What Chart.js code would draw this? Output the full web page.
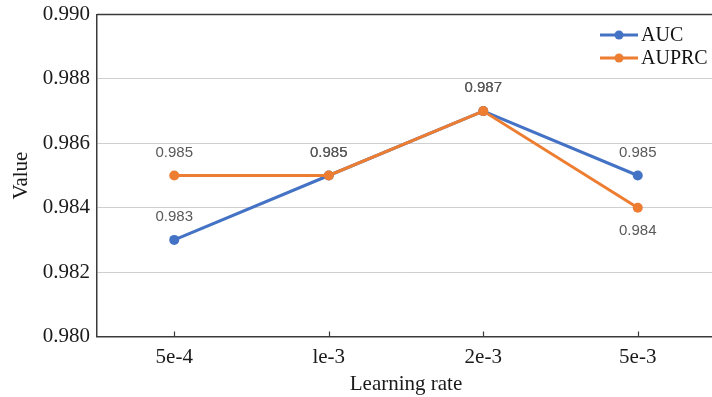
<!DOCTYPE html>
<html>
<head>
<meta charset="utf-8">
<script src="https://cdn.jsdelivr.net/npm/chart.js@4.4.1/dist/chart.umd.min.js"></script>
<style>
  html, body { margin: 0; padding: 0; background: #ffffff; overflow: hidden; }
  #wrap { width: 712px; height: 397px; overflow: hidden; }
  canvas { display: block; }
</style>
</head>
<body>
<div id="wrap"><canvas id="c" width="720" height="397"></canvas></div>
<script>
// Learning-rate sweep results
const learningRates = ['5e-4', 'le-3', '2e-3', '5e-3'];
const aucValues = [0.983, 0.985, 0.987, 0.985];
const auprcValues = [0.985, 0.985, 0.987, 0.984];
const yTickValues = [0.980, 0.982, 0.984, 0.986, 0.988, 0.990];

// Where each value label sits relative to its point
const aucLabelSide = ['above', 'above', 'above', 'above'];
const auprcLabelSide = ['above', 'above', 'above', 'below'];

const BLUE = '#4472C4';
const ORANGE = '#ED7D31';
const AXIS = '#3a3a3a';
const SERIF = '"Liberation Serif", "Times New Roman", serif';
const SANS = '"Liberation Sans", Arial, sans-serif';

const framePlugin = {
  id: 'frame',
  afterDatasetsDraw(chart) {
    const ctx = chart.ctx;
    const area = chart.chartArea;
    const x = chart.scales.x;
    ctx.save();
    // top border of the plot box
    ctx.strokeStyle = AXIS;
    ctx.lineWidth = 1.5;
    ctx.beginPath();
    ctx.moveTo(area.left, area.top);
    ctx.lineTo(area.right, area.top);
    ctx.stroke();
    // short inward tick marks on the category axis
    ctx.lineWidth = 1.2;
    x.ticks.forEach((t, i) => {
      const px = Math.round(x.getPixelForTick(i)) + 0.5;
      ctx.beginPath();
      ctx.moveTo(px, area.bottom);
      ctx.lineTo(px, area.bottom - 5);
      ctx.stroke();
    });
    ctx.restore();
  }
};

const valueLabelPlugin = {
  id: 'valueLabels',
  afterDatasetsDraw(chart) {
    const ctx = chart.ctx;
    ctx.save();
    ctx.font = '15px ' + SANS;
    ctx.fillStyle = '#595959';
    ctx.textAlign = 'center';
    ctx.textBaseline = 'middle';
    chart.data.datasets.forEach((ds, di) => {
      const meta = chart.getDatasetMeta(di);
      meta.data.forEach((pt, i) => {
        const side = ds.labelSide[i];
        const dy = side === 'above' ? -23 : 23;
        ctx.fillText(ds.data[i].toFixed(3), pt.x, pt.y + dy);
      });
    });
    ctx.restore();
  }
};

const legendPlugin = {
  id: 'lineLegend',
  afterDraw(chart) {
    const ctx = chart.ctx;
    ctx.save();
    const items = chart.data.datasets;
    items.forEach((ds, i) => {
      const y = 35 + i * 23;
      ctx.strokeStyle = ds.borderColor;
      ctx.lineWidth = 3;
      ctx.beginPath();
      ctx.moveTo(600, y);
      ctx.lineTo(638, y);
      ctx.stroke();
      ctx.fillStyle = ds.borderColor;
      ctx.beginPath();
      ctx.arc(619, y, 4.5, 0, Math.PI * 2);
      ctx.fill();
      ctx.fillStyle = '#111111';
      ctx.font = '20px ' + SERIF;
      ctx.textAlign = 'left';
      ctx.textBaseline = 'middle';
      ctx.fillText(ds.label, 641, y + 1);
    });
    ctx.restore();
  }
};

new Chart(document.getElementById('c'), {
  type: 'line',
  data: {
    labels: learningRates,
    datasets: [
      {
        label: 'AUC',
        data: aucValues,
        labelSide: aucLabelSide,
        borderColor: BLUE,
        backgroundColor: BLUE,
        borderWidth: 3,
        pointRadius: 5,
        pointBorderWidth: 0,
        pointBackgroundColor: BLUE,
        tension: 0,
        order: 1
      },
      {
        label: 'AUPRC',
        data: auprcValues,
        labelSide: auprcLabelSide,
        borderColor: ORANGE,
        backgroundColor: ORANGE,
        borderWidth: 3,
        pointRadius: 5,
        pointBorderWidth: 0,
        pointBackgroundColor: ORANGE,
        tension: 0,
        order: 0
      }
    ]
  },
  options: {
    responsive: false,
    animation: false,
    events: [],
    layout: { padding: { top: 14.5, right: 0, bottom: 0, left: 0 } },
    plugins: {
      legend: { display: false },
      tooltip: { enabled: false }
    },
    scales: {
      x: {
        offset: true,
        grid: { display: false, drawTicks: false },
        border: { display: true, color: AXIS, width: 1.5 },
        ticks: {
          color: '#1a1a1a',
          font: { family: SERIF, size: 21 },
          padding: 8,
          maxRotation: 0
        },
        title: {
          display: true,
          text: 'Learning rate',
          color: '#1a1a1a',
          font: { family: SERIF, size: 21 },
          padding: { top: 1, bottom: 0 }
        },
        afterFit(scale) { scale.height = 60.5; }
      },
      y: {
        min: 0.980,
        max: 0.990,
        afterBuildTicks(scale) {
          scale.ticks = yTickValues.map(v => ({ value: v }));
        },
        grid: {
          drawTicks: false,
          lineWidth: 1,
          color(ctx) {
            const v = ctx.tick ? ctx.tick.value : null;
            if (v === yTickValues[0] || v === yTickValues[yTickValues.length - 1]) return 'rgba(0,0,0,0)';
            return '#cfcfcf';
          }
        },
        border: { display: true, color: AXIS, width: 1.5 },
        ticks: {
          color: '#1a1a1a',
          font: { family: SERIF, size: 21 },
          padding: 7,
          callback(v) { return Number(v).toFixed(3); }
        },
        title: {
          display: true,
          text: 'Value',
          color: '#1a1a1a',
          font: { family: SERIF, size: 21 },
          padding: { top: 9, bottom: 0 }
        },
        afterFit(scale) {
          scale.width = 97;
          scale.paddingTop = 0;
          scale.paddingBottom = 0;
        }
      }
    }
  },
  plugins: [framePlugin, valueLabelPlugin, legendPlugin]
});
</script>
</body>
</html>
